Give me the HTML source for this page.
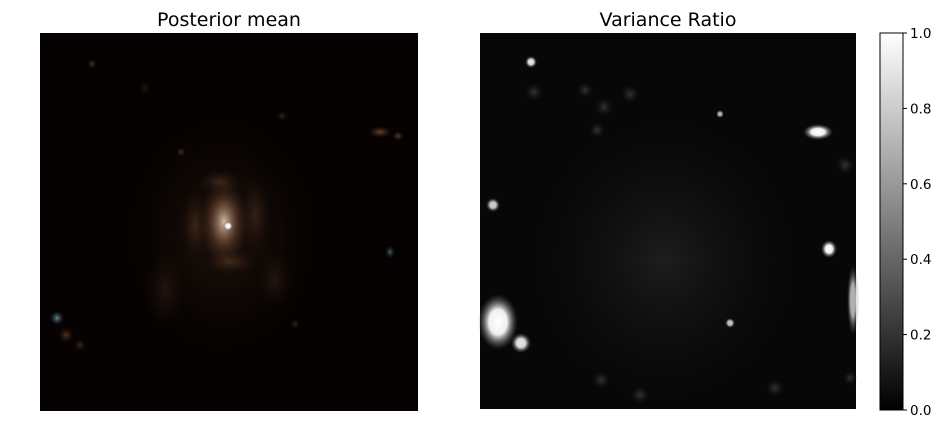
<!DOCTYPE html>
<html><head><meta charset="utf-8"><style>
html,body{margin:0;padding:0;background:#fff;width:940px;height:428px;overflow:hidden}
svg text{font-family:"DejaVu Sans","Liberation Sans",sans-serif}
</style></head><body>
<svg id="fig" width="940" height="428" viewBox="0 0 940 428" xmlns="http://www.w3.org/2000/svg">
<defs>
<radialGradient id="gOr"><stop offset="0" stop-color="#a06a48" stop-opacity="0.8"/><stop offset="1" stop-color="#4a2414" stop-opacity="0"/></radialGradient>
<radialGradient id="gCore"><stop offset="0" stop-color="#f4e8dc"/><stop offset="0.15" stop-color="#c8a890"/><stop offset="0.55" stop-color="#7a5038" stop-opacity="0.6"/><stop offset="1" stop-color="#4a2414" stop-opacity="0"/></radialGradient>
<radialGradient id="gW"><stop offset="0" stop-color="#ffffff"/><stop offset="0.45" stop-color="#f0f0f0"/><stop offset="1" stop-color="#555" stop-opacity="0"/></radialGradient>
<radialGradient id="gG"><stop offset="0" stop-color="#333"/><stop offset="1" stop-color="#1a1a1a" stop-opacity="0"/></radialGradient>
<radialGradient id="gBl"><stop offset="0" stop-color="#8ec0c8"/><stop offset="1" stop-color="#305060" stop-opacity="0"/></radialGradient>
<linearGradient id="cbar" x1="0" y1="1" x2="0" y2="0"><stop offset="0" stop-color="#000"/><stop offset="1" stop-color="#fff"/></linearGradient>
</defs>
<text x="229" y="26" font-size="19" text-anchor="middle" fill="#000">Posterior mean</text>
<text x="668" y="26" font-size="19" text-anchor="middle" fill="#000">Variance Ratio</text>
<rect x="40" y="33" width="378" height="378" fill="#050201"/>
<g id="leftBlobs"></g>
<rect x="480" y="33" width="376" height="376" fill="#070707"/>
<g id="rightBlobs"></g>
<rect x="880" y="33" width="23" height="377" fill="url(#cbar)" stroke="#000" stroke-width="1"/>
<g id="cbTicks"></g>
</svg>
<script>
const cbTicks=[0,0.2,0.4,0.6,0.8,1.0];
const cbLabels=["0.0","0.2","0.4","0.6","0.8","1.0"];
// left blobs: [cx, cy, rx, ry, gradient, opacity]
const leftBlobs=[
[222,235,100,125,"gOr",0.2],[224,222,24,42,"gCore",0.8],[228,226,5,5,"gW",1],
[195,225,14,35,"gOr",0.35],[255,215,16,40,"gOr",0.3],[220,182,22,12,"gOr",0.4],
[230,262,26,12,"gOr",0.4],[165,290,20,40,"gOr",0.2],[275,280,18,30,"gOr",0.2],
[380,132,12,6,"gOr",0.8],[398,136,6,5,"gOr",0.7],[92,64,5,5,"gOr",0.6],[181,152,5,5,"gOr",0.5],
[282,116,6,5,"gOr",0.4],[57,318,7,7,"gBl",0.7],[66,335,8,8,"gOr",0.6],[80,345,6,6,"gOr",0.5],
[390,252,5,6,"gBl",0.5],[295,324,5,5,"gOr",0.4],[145,88,7,7,"gOr",0.25]];
const rightBlobs=[
[818,132,15,8,"gW",1],[829,249,8,9,"gW",1],[498,322,20,28,"gW",1],[521,343,10,10,"gW",0.9],
[531,62,6,6,"gW",0.9],[493,205,7,7,"gW",0.8],[730,323,5,5,"gW",0.9],[720,114,4,4,"gW",0.7],
[853,300,6,35,"gW",0.7],[664,260,130,140,"gG",0.5],[604,107,9,9,"gG",1],[630,94,9,9,"gG",1],
[597,130,8,8,"gG",1],[534,92,9,9,"gG",1],[640,395,9,9,"gG",1],[601,380,9,9,"gG",1],
[775,388,9,9,"gG",1],[850,378,7,7,"gG",1],[845,165,9,9,"gG",1],[585,90,8,8,"gG",1]];
const NS="http://www.w3.org/2000/svg";
function draw(gid,arr){const g=document.getElementById(gid);
arr.forEach(b=>{const e=document.createElementNS(NS,"ellipse");


e.setAttribute("cx",b[0]);e.setAttribute("cy",b[1]);e.setAttribute("rx",b[2]);e.setAttribute("ry",b[3]);
e.setAttribute("fill","url(#"+b[4]+")");e.setAttribute("opacity",b[5]);g.appendChild(e);});}
draw("leftBlobs",leftBlobs);draw("rightBlobs",rightBlobs);
const y=v=>410-v*(410-33);
const tg=document.getElementById("cbTicks");
cbTicks.forEach((v,i)=>{const l=document.createElementNS(NS,"line");


l.setAttribute("x1",903);l.setAttribute("x2",907);l.setAttribute("y1",y(v));l.setAttribute("y2",y(v));l.setAttribute("stroke","#000");tg.appendChild(l);
const t=document.createElementNS(NS,"text");


t.setAttribute("x",910);t.setAttribute("y",y(v)+5);t.setAttribute("font-size","13.5");t.textContent=cbLabels[i];tg.appendChild(t);});
</script>
</body></html>
